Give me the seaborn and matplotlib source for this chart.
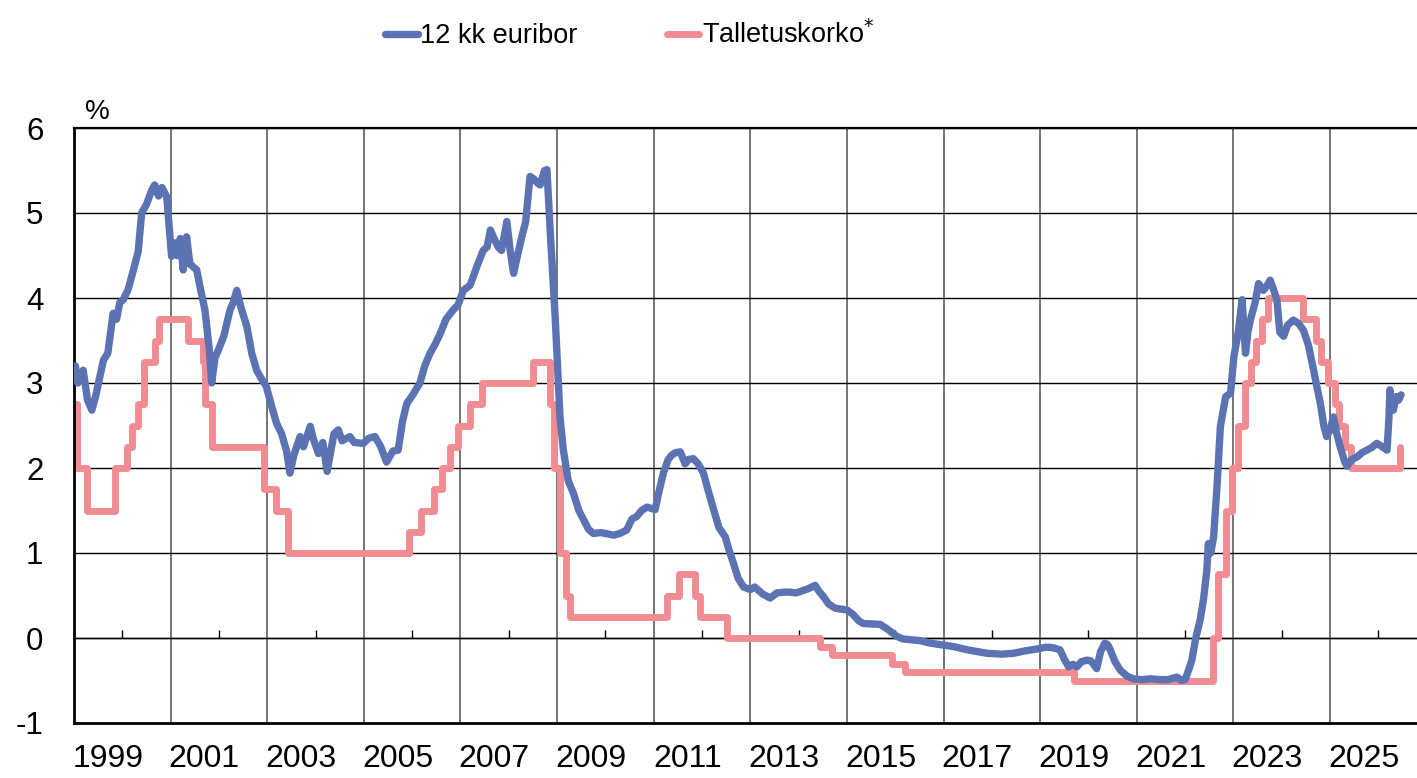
import matplotlib.pyplot as plt
import pandas as pd
import seaborn as sns

# 12 kk euribor, luettu kuvasta (vuosi desimaalina, %)
euribor_t = [
    1999.00, 1999.03, 1999.08, 1999.19, 1999.28, 1999.37, 1999.45, 1999.61, 1999.70, 1999.81,
    1999.88, 1999.95, 2000.02, 2000.12, 2000.23, 2000.33, 2000.40, 2000.50, 2000.61, 2000.67,
    2000.75, 2000.82, 2000.92, 2001.02, 2001.08, 2001.13, 2001.20, 2001.26, 2001.33, 2001.40,
    2001.54, 2001.62, 2001.71, 2001.80, 2001.85, 2001.92, 2001.99, 2002.10, 2002.23, 2002.30,
    2002.37, 2002.45, 2002.58, 2002.68, 2002.78, 2002.88, 2002.98, 2003.08, 2003.19, 2003.30,
    2003.40, 2003.47, 2003.55, 2003.68, 2003.75, 2003.89, 2003.95, 2004.06, 2004.15, 2004.24,
    2004.30, 2004.38, 2004.47, 2004.55, 2004.71, 2004.80, 2004.99, 2005.10, 2005.23, 2005.35,
    2005.47, 2005.60, 2005.71, 2005.80, 2005.89, 2006.00, 2006.16, 2006.26, 2006.37, 2006.47,
    2006.58, 2006.70, 2006.85, 2006.95, 2007.06, 2007.20, 2007.34, 2007.47, 2007.55, 2007.62,
    2007.68, 2007.78, 2007.85, 2007.96, 2008.03, 2008.10, 2008.18, 2008.27, 2008.35, 2008.44,
    2008.52, 2008.60, 2008.65, 2008.74, 2008.79, 2008.86, 2008.96, 2009.06, 2009.13, 2009.23,
    2009.34, 2009.45, 2009.55, 2009.65, 2009.75, 2009.90, 2010.00, 2010.17, 2010.30, 2010.44,
    2010.55, 2010.65, 2010.75, 2010.86, 2011.03, 2011.10, 2011.20, 2011.30, 2011.37, 2011.45,
    2011.55, 2011.65, 2011.72, 2011.82, 2011.92, 2012.03, 2012.12, 2012.24, 2012.35, 2012.48,
    2012.55, 2012.65, 2012.75, 2012.86, 2013.00, 2013.09, 2013.25, 2013.41, 2013.55, 2013.70,
    2013.82, 2013.95, 2014.10, 2014.20, 2014.34, 2014.42, 2014.51, 2014.62, 2014.76, 2015.00,
    2015.12, 2015.25, 2015.34, 2015.69, 2015.85, 2016.03, 2016.15, 2016.31, 2016.50, 2016.72,
    2016.95, 2017.20, 2017.50, 2017.90, 2018.20, 2018.45, 2018.70, 2018.93, 2019.10, 2019.21,
    2019.30, 2019.41, 2019.50, 2019.59, 2019.68, 2019.76, 2019.85, 2019.97, 2020.05, 2020.17,
    2020.25, 2020.34, 2020.40, 2020.45, 2020.55, 2020.66, 2020.80, 2020.93, 2021.10, 2021.28,
    2021.48, 2021.65, 2021.83, 2021.92, 2022.00, 2022.07, 2022.14, 2022.22, 2022.31, 2022.38,
    2022.45, 2022.48, 2022.53, 2022.59, 2022.66, 2022.73, 2022.78, 2022.84, 2022.94, 2023.01,
    2023.10, 2023.18, 2023.25, 2023.30, 2023.35, 2023.45, 2023.52, 2023.62, 2023.70, 2023.76,
    2023.83, 2023.90, 2023.96, 2024.04, 2024.12, 2024.24, 2024.35, 2024.45, 2024.55, 2024.66,
    2024.73, 2024.80, 2024.87, 2024.93, 2025.00, 2025.07, 2025.14, 2025.21, 2025.30, 2025.35,
    2025.45, 2025.56, 2025.66, 2025.76, 2025.86, 2025.97, 2026.08, 2026.18, 2026.22, 2026.24,
    2026.28, 2026.31, 2026.37, 2026.42, 2026.47,
]
euribor_v = [
    3.10, 3.20, 3.00, 3.15, 2.80, 2.68, 2.85, 3.27, 3.35, 3.82,
    3.75, 3.95, 3.98, 4.10, 4.33, 4.55, 5.00, 5.10, 5.27, 5.33,
    5.20, 5.30, 5.19, 4.49, 4.65, 4.50, 4.70, 4.33, 4.72, 4.40,
    4.33, 4.10, 3.86, 3.40, 3.00, 3.30, 3.39, 3.55, 3.86, 3.95,
    4.09, 3.90, 3.66, 3.35, 3.15, 3.05, 2.96, 2.75, 2.53, 2.40,
    2.20, 1.94, 2.15, 2.37, 2.25, 2.49, 2.35, 2.17, 2.30, 1.96,
    2.15, 2.40, 2.45, 2.32, 2.37, 2.30, 2.29, 2.35, 2.37, 2.25,
    2.07, 2.20, 2.21, 2.55, 2.76, 2.85, 3.00, 3.20, 3.35, 3.45,
    3.58, 3.75, 3.86, 3.92, 4.09, 4.15, 4.37, 4.56, 4.60, 4.80,
    4.72, 4.60, 4.56, 4.90, 4.55, 4.29, 4.50, 4.72, 4.90, 5.43,
    5.40, 5.35, 5.33, 5.50, 5.51, 4.76, 3.78, 2.60, 2.21, 1.85,
    1.70, 1.50, 1.39, 1.28, 1.23, 1.24, 1.23, 1.21, 1.23, 1.27,
    1.40, 1.43, 1.50, 1.54, 1.51, 1.70, 1.94, 2.10, 2.15, 2.18,
    2.19, 2.05, 2.10, 2.11, 2.05, 1.94, 1.75, 1.51, 1.30, 1.19,
    1.05, 0.88, 0.70, 0.60, 0.57, 0.60, 0.52, 0.47, 0.53, 0.54,
    0.54, 0.53, 0.56, 0.58, 0.62, 0.55, 0.49, 0.40, 0.35, 0.33,
    0.28, 0.20, 0.17, 0.16, 0.10, 0.02, -0.01, -0.02, -0.03, -0.06,
    -0.08, -0.10, -0.14, -0.18, -0.19, -0.18, -0.15, -0.13, -0.11, -0.11,
    -0.12, -0.14, -0.25, -0.34, -0.31, -0.34, -0.28, -0.26, -0.27, -0.36,
    -0.16, -0.06, -0.08, -0.14, -0.28, -0.38, -0.45, -0.48, -0.49, -0.48,
    -0.49, -0.49, -0.46, -0.50, -0.49, -0.38, -0.26, 0.00, 0.21, 0.45,
    0.80, 1.11, 1.00, 1.19, 1.78, 2.49, 2.65, 2.84, 2.88, 3.31,
    3.60, 3.98, 3.35, 3.60, 3.74, 3.95, 4.17, 4.09, 4.15, 4.21,
    4.10, 3.98, 3.60, 3.55, 3.68, 3.74, 3.70, 3.62, 3.45, 3.15,
    2.95, 2.76, 2.50, 2.37, 2.45, 2.60, 2.40, 2.25, 2.08, 2.02,
    2.10, 2.13, 2.18, 2.21, 2.24, 2.29, 2.25, 2.21, 2.60, 2.92,
    2.70, 2.68, 2.84, 2.80, 2.86,
]

# EKP:n talletuskorko, muutoshetket ja uusi taso
talletus_t = [
    1999.00, 1999.06, 1999.27, 1999.85, 2000.09, 2000.21, 2000.32, 2000.44, 2000.67, 2000.76,
    2001.36, 2001.66, 2001.71, 2001.86, 2002.93, 2003.18, 2003.43, 2005.93, 2006.18, 2006.45,
    2006.61, 2006.78, 2006.95, 2007.20, 2007.45, 2008.50, 2008.86, 2008.94, 2009.05, 2009.19,
    2009.27, 2011.28, 2011.53, 2011.86, 2011.95, 2012.52, 2014.44, 2014.69, 2015.94, 2016.21,
    2019.71, 2022.57, 2022.69, 2022.84, 2022.97, 2023.10, 2023.23, 2023.36, 2023.47, 2023.59,
    2023.72, 2024.45, 2024.71, 2024.81, 2024.96, 2025.10, 2025.19, 2025.31, 2025.44, 2026.45,
]
talletus_v = [
    2.75, 2.00, 1.50, 2.00, 2.25, 2.50, 2.75, 3.25, 3.50, 3.75,
    3.50, 3.25, 2.75, 2.25, 1.75, 1.50, 1.00, 1.25, 1.50, 1.75,
    2.00, 2.25, 2.50, 2.75, 3.00, 3.25, 2.75, 2.00, 1.00, 0.50,
    0.25, 0.50, 0.75, 0.50, 0.25, 0.00, -0.10, -0.20, -0.30, -0.40,
    -0.50, 0.00, 0.75, 1.50, 2.00, 2.50, 3.00, 3.25, 3.50, 3.75,
    4.00, 3.75, 3.50, 3.25, 3.00, 2.75, 2.50, 2.25, 2.00, 2.25,
]

grid_years = list(range(2001, 2027, 2))
label_years = list(range(1999, 2026, 2))
zero_tick_years = list(range(2000, 2027, 2))
y_ticks = list(range(-1, 7))

blue = '#5B73B3'
pink = '#F08C92'

sns.set_theme(style='white', rc={'text.color': 'black', 'xtick.color': 'black',
                                 'ytick.color': 'black', 'axes.edgecolor': 'black',
                                 'axes.unicode_minus': False})
plt.rcParams['font.family'] = ['Liberation Sans', 'DejaVu Sans']

fig = plt.figure(figsize=(14.17, 7.78), dpi=100)
fig.patch.set_facecolor('white')
ax = fig.add_axes([74 / 1417, 55 / 778, 1343 / 1417, 595 / 778])

df_eur = pd.DataFrame({'vuosi': euribor_t, 'korko': euribor_v})
df_tal = pd.DataFrame({'vuosi': talletus_t, 'korko': talletus_v})

sns.lineplot(data=df_tal, x='vuosi', y='korko', color=pink, lw=5.0,
             drawstyle='steps-post', ax=ax, label='Talletuskorko$^{*}$', zorder=2,
             solid_capstyle='round', solid_joinstyle='round')
sns.lineplot(data=df_eur, x='vuosi', y='korko', color=blue, lw=5.3,
             ax=ax, label='12 kk euribor', zorder=3,
             solid_capstyle='round', solid_joinstyle='round')

ax.set_xlim(1999, 2026.8)
ax.set_ylim(-1, 6)
ax.set_xlabel('')
ax.set_ylabel('')

# pystyviivat parittomien vuosien kohdalla, vuosiluvut vuoden keskelle
ax.set_xticks(grid_years)
ax.set_xticklabels([])
ax.set_xticks([y + 0.7 for y in label_years], labels=[str(y) for y in label_years], minor=True)
ax.tick_params(axis='x', which='major', length=0)
ax.tick_params(axis='x', which='minor', length=0, pad=15, labelsize=23)
ax.set_yticks(y_ticks)
ax.tick_params(axis='y', length=0, pad=22, labelsize=22.5)

ax.grid(axis='y', color='black', lw=1.0)
ax.grid(axis='x', which='major', color='#6a6a6a', lw=1.3)
ax.grid(axis='x', which='minor', visible=False)

for side, lw in [('left', 2.0), ('bottom', 2.0), ('top', 1.6)]:
    ax.spines[side].set_linewidth(lw)
    ax.spines[side].set_color('black')
ax.spines['right'].set_visible(False)

# pienet väkäset nollatasolla parillisten vuosien alussa
sec = ax.secondary_xaxis(1 / 7)
sec.set_xticks(zero_tick_years)
sec.tick_params(direction='in', length=6, width=1, labelbottom=False, color='black')
sec.spines['bottom'].set_linewidth(1.0)

fig.text(85 / 1417, 1 - 112 / 778, '%', fontsize=20, ha='left', va='center')

handles, labels = ax.get_legend_handles_labels()
ax.get_legend().remove()
order = [1, 0]
fig.legend([handles[i] for i in order], [labels[i] for i in order],
           loc='center left', bbox_to_anchor=(385 / 1417, 0.955), ncol=2, frameon=False,
           fontsize=19.5, borderpad=0, borderaxespad=0,
           handlelength=1.2, handletextpad=0.1, columnspacing=3.3)

fig.savefig('out.png', dpi=100)
